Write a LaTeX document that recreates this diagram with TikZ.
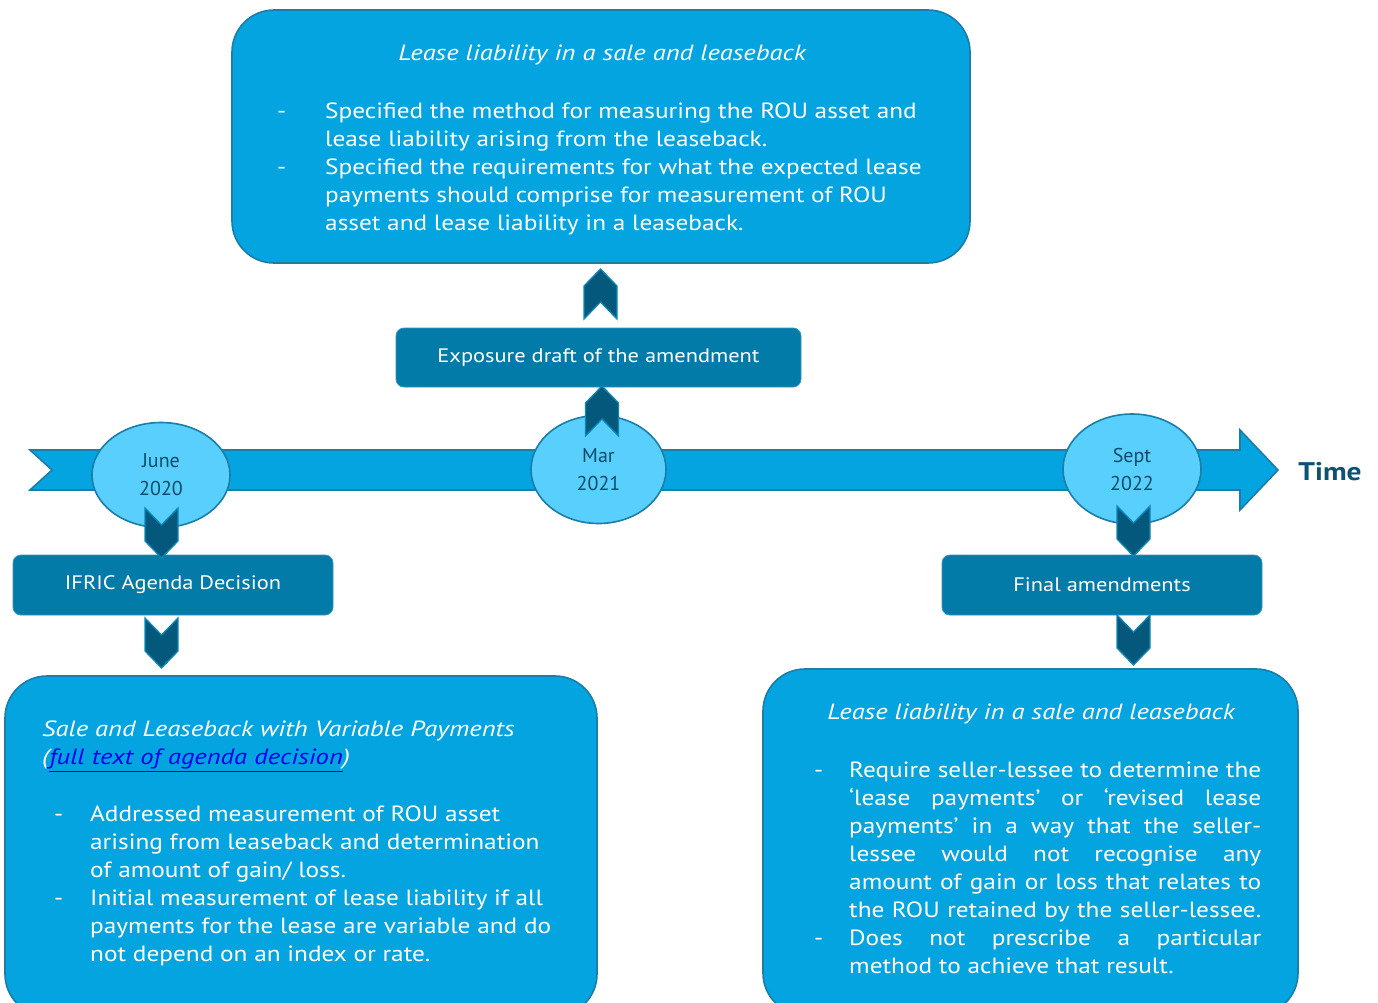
\documentclass[tikz,border=0pt]{standalone}
\usepackage{fontspec}
\setmainfont{PT Sans}[FakeStretch=1.15]
\newfontfamily\itfont{PT Sans}[FakeStretch=1.21]
\newfontfamily\datefont{PT Sans}
\usetikzlibrary{shapes.geometric}
\definecolor{boxblue}{HTML}{04A4E0}
\definecolor{boxedge}{HTML}{1A7DAA}
\definecolor{darkfill}{HTML}{037BA9}
\definecolor{chevfill}{HTML}{03587B}
\definecolor{chevedge}{HTML}{0D88B8}
\definecolor{ellfill}{HTML}{58CFFD}
\definecolor{datetext}{HTML}{0C4B69}
\definecolor{timetext}{HTML}{0B5274}
\definecolor{linkblue}{HTML}{0000EE}
\tikzset{
  bigbox/.style={draw=boxedge, line width=1.6pt, fill=boxblue, rounded corners=42pt, inner sep=0pt},
  darkbox/.style={draw=darkfill!80!white, line width=0.8pt, fill=darkfill, rounded corners=8pt, text=white,
     font=\fontsize{19.5}{24}\selectfont, inner sep=0pt},
  datebubble/.style={ellipse, draw=boxedge, line width=1.6pt, fill=ellfill, text=datetext, align=center,
     font=\datefont\fontsize{20}{28}\selectfont, inner sep=0pt},
  band/.style={draw=boxedge, line width=1.6pt, fill=boxblue, line join=miter},
  chev/.style={draw=chevedge, fill=chevfill, line width=1.3pt, line join=miter},
  bodytext/.style={text=white, align=left, inner sep=0pt, font=\fontsize{22}{28}\selectfont, anchor=north west},
  titletext/.style={text=white, inner sep=0pt, font=\itfont\fontsize{22}{28}\selectfont\itshape},
  chevdown/.pic={\path[chev] (-16.5,-25)--(0,-8)--(16.5,-25)--(16.5,8)--(0,25)--(-16.5,8)--cycle;},
  chevup/.pic={\path[chev] (-16.5,25)--(0,8)--(16.5,25)--(16.5,-8)--(0,-25)--(-16.5,-8)--cycle;}
}
\newcommand{\bul}[1]{\makebox[#1][l]{-}}
\begin{document}
\begin{tikzpicture}[x=1pt,y=-1pt]
\clip (0,0) rectangle (1378,1002);
\fill[white] (0,0) rectangle (1378,1002);

% top box
\node[bigbox, minimum width=738pt, minimum height=253pt] (topbox) at (601,136.5) {};
\node[titletext] (toptitle) at (602,55) {Lease liability in a sale and leaseback};
\node[bodytext] (topbody) at (277,103) {\bul{48pt}Specified the method for measuring the ROU asset and\\
\hspace*{48pt}lease liability arising from the leaseback.\\
\bul{48pt}Specified the requirements for what the expected lease\\
\hspace*{48pt}payments should comprise for measurement of ROU\\
\hspace*{48pt}asset and lease liability in a leaseback.};

% exposure draft
\node[darkbox, minimum width=405pt, minimum height=59pt] (expo) at (598.5,357.5) {Exposure draft of the amendment};

% timeline band
\path[band] (30,450) -- (1240,450) -- (1240,430) -- (1278,470) -- (1240,510) -- (1240,490) -- (30,490) -- (52,470) -- cycle;
\node[font=\fontsize{25.5}{30}\selectfont\bfseries, text=timetext, inner sep=0pt] (time) at (1330,472) {Time};

% date bubbles
\node[datebubble, minimum width=138pt, minimum height=105pt] (june) at (161,475) {June\\2020};
\node[datebubble, minimum width=135pt, minimum height=108pt] (mar) at (598.5,469.5) {Mar\\2021};
\node[datebubble, minimum width=138pt, minimum height=110pt] (sept) at (1132,469) {Sept\\2022};

% event boxes
\node[darkbox, minimum width=320pt, minimum height=60pt] (ifric) at (173,585) {IFRIC Agenda Decision};
\node[darkbox, minimum width=320pt, minimum height=60pt] (final) at (1102,585) {Final amendments};

% bottom left box
\node[bigbox, minimum width=592pt, minimum height=340pt] (blbox) at (301,846) {};
\node[titletext, anchor=north west, align=left] (bltitle) at (42,721) {Sale and Leaseback with Variable Payments\\
(\textcolor{linkblue}{\underline{full text of agenda decision}})};
\node[bodytext] (blbody) at (54,806) {\bul{36pt}Addressed measurement of ROU asset\\
\hspace*{36pt}arising from leaseback and determination\\
\hspace*{36pt}of amount of gain/ loss.\\
\bul{36pt}Initial measurement of lease liability if all\\
\hspace*{36pt}payments for the lease are variable and do\\
\hspace*{36pt}not depend on an index or rate.};

% bottom right box
\node[bigbox, minimum width=535pt, minimum height=346pt] (brbox) at (1030.5,842) {};
\node[titletext] (brtitle) at (1031,714) {Lease liability in a sale and leaseback};
\node[bodytext] (brbody) at (814,762) {\bul{35pt}\makebox[412pt][s]{Require seller-lessee to determine the}\\
\hspace*{35pt}\makebox[412pt][s]{‘lease payments’ or ‘revised lease}\\
\hspace*{35pt}\makebox[412pt][s]{payments’ in a way that the seller-}\\
\hspace*{35pt}\makebox[412pt][s]{lessee would not recognise any}\\
\hspace*{35pt}\makebox[412pt][s]{amount of gain or loss that relates to}\\
\hspace*{35pt}\makebox[412pt][s]{the ROU retained by the seller-lessee.}\\
\bul{35pt}\makebox[412pt][s]{Does not prescribe a particular}\\
\hspace*{35pt}method to achieve that result.};

% chevrons
\pic at (600.5,294) {chevup};
\pic at (602,411) {chevup};
\pic at (161.5,533) {chevdown};
\pic at (161.5,643) {chevdown};
\pic at (1133.5,531) {chevdown};
\pic at (1133.5,640) {chevdown};
\end{tikzpicture}
\end{document}
